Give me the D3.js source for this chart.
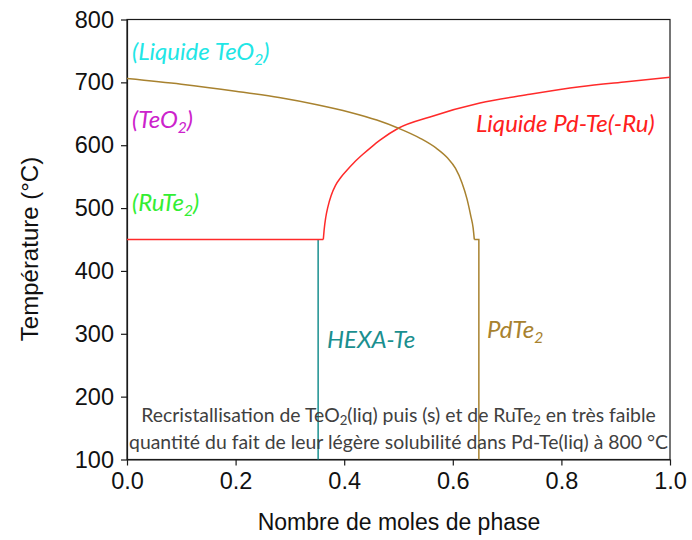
<!DOCTYPE html>
<html><head><meta charset="utf-8">
<script src="https://cdn.jsdelivr.net/npm/d3@7"></script>
<style>html,body{margin:0;padding:0;background:#fff}</style>
</head><body>
<svg id="c" width="692" height="540"></svg>
<script>
// ---- data ----
const xTicks = [0, 0.2, 0.4, 0.6, 0.8, 1.0];
const yTicks = [100, 200, 300, 400, 500, 600, 700, 800];
// Liquide Pd-Te(-Ru) (red)
const liquidFlat = [[0,450],[0.3615,450]];
const liquidCurve = [[0.3615,450],[0.363,465],[0.366,485],[0.370,502],[0.376,520],[0.384,536],[0.394,549],[0.405,560],[0.42,574],[0.435,586],[0.45,597],[0.4659,608],[0.4996,627],[0.558,645],[0.650,667],[0.742,681],[0.834,693],[0.92,701],[1.0,708]];
// PdTe2 (brown)
const pdte2Curve = [[0,706],[0.10,697],[0.20,686],[0.28,676],[0.35,664.5],[0.41,652.5],[0.46,640],[0.50,627],[0.54,611],[0.57,595],[0.59,580],[0.605,563],[0.617,540],[0.626,515],[0.633,488],[0.6375,468],[0.6396,450]];
const pdte2Step = [[0.6396,450],[0.648,450],[0.648,100]];
// HEXA-Te (teal)
const hexaTe = [[0.352,450],[0.352,100]];

const svg = d3.select("#c");
const L = 127, R = 670, T = 19.5, B = 459.5;
const x = d3.scaleLinear().domain([0,1]).range([L,R]);
const y = d3.scaleLinear().domain([100,800]).range([B,T]);

// frame
svg.append("rect").attr("x",L).attr("y",T).attr("width",R-L).attr("height",B-T)
  .attr("fill","none").attr("stroke","#1a1a1a").attr("stroke-width",1.2);

const axFont = "'Liberation Sans', Arial, sans-serif";
const xa = svg.append("g").attr("transform",`translate(0,${B})`)
  .call(d3.axisBottom(x).tickValues(xTicks).tickFormat(d3.format(".1f")).tickSize(6).tickSizeOuter(0));
const ya = svg.append("g").attr("transform",`translate(${L},0)`)
  .call(d3.axisLeft(y).tickValues(yTicks).tickFormat(d3.format("d")).tickSize(6).tickSizeOuter(0));
[xa,ya].forEach(a=>{
  a.select(".domain").attr("stroke","#1a1a1a").attr("stroke-width",1.2);
  a.selectAll(".tick line").attr("stroke","#1a1a1a").attr("stroke-width",1.2);
  a.selectAll(".tick text").attr("font-family",axFont).attr("font-size",23.5).attr("fill","#111");
});
xa.selectAll(".tick text").attr("y",13);
ya.selectAll(".tick text").attr("x",-13);

svg.append("text").attr("x",(L+R)/2+0.5).attr("y",530).attr("text-anchor","middle")
  .attr("font-family",axFont).attr("font-size",23).attr("fill","#111").text("Nombre de moles de phase");
svg.append("text").attr("transform","translate(38,249) rotate(-90)").attr("text-anchor","middle")
  .attr("font-family",axFont).attr("font-size",24).attr("fill","#111").text("Température (°C)");

// curves
const lm = d3.line().x(d=>x(d[0])).y(d=>y(d[1])).curve(d3.curveMonotoneX);
const ll = d3.line().x(d=>x(d[0])).y(d=>y(d[1]));
svg.append("path").attr("d",ll(hexaTe)).attr("fill","none").attr("stroke","#1a8f8f").attr("stroke-width",1.5);
svg.append("path").attr("d",ll(liquidFlat)).attr("fill","none").attr("stroke","#ff2a2a").attr("stroke-width",1.5);
svg.append("path").attr("d",lm(liquidCurve)).attr("fill","none").attr("stroke","#ff2a2a").attr("stroke-width",1.5);
svg.append("path").attr("d",lm(pdte2Curve)).attr("fill","none").attr("stroke","#a8822f").attr("stroke-width",1.5);
svg.append("path").attr("d",ll(pdte2Step)).attr("fill","none").attr("stroke","#a8822f").attr("stroke-width",1.5);

// labels
const lf = "Lato, 'Open Sans', sans-serif";
function label(px,py,parts,color,size){
  const t = svg.append("text").attr("x",px).attr("y",py).attr("font-family",lf)
    .attr("font-style","italic").attr("font-size",size).attr("fill",color);
  parts.forEach(p=>{
    if(p.sub){ t.append("tspan").attr("font-size",size*0.65).attr("dy",size*0.2).text(p.t);
    } else { const s=t.append("tspan").text(p.t); if(p.up) s.attr("dy",-size*0.2); }
  });
  return t;
}
label(132,60,[{t:"(Liquide TeO"},{t:"2",sub:true},{t:")",up:true}],"#22e6e6",24);
label(132,128,[{t:"(TeO"},{t:"2",sub:true},{t:")",up:true}],"#cc22cc",24);
label(132,211,[{t:"(RuTe"},{t:"2",sub:true},{t:")",up:true}],"#33ee33",24);
label(476,132,[{t:"Liquide Pd-Te(-Ru)"}],"#ff2020",24);
label(327,348,[{t:"HEXA-Te"}],"#1a8f8f",24);
label(487,338,[{t:"PdTe"},{t:"2",sub:true}],"#a8822f",24);

// annotation
const af = "Lato, 'Open Sans', sans-serif";
const fs = 19.4;
const a1 = svg.append("text").attr("x",398.5).attr("y",422).attr("text-anchor","middle")
  .attr("font-family",af).attr("font-size",fs).attr("fill","#404040");
a1.append("tspan").text("Recristallisation de TeO");
a1.append("tspan").attr("font-size",fs*0.68).attr("dy",3).text("2");
a1.append("tspan").attr("dy",-3).text("(liq) puis (s) et de RuTe");
a1.append("tspan").attr("font-size",fs*0.68).attr("dy",3).text("2");
a1.append("tspan").attr("dy",-3).text(" en très faible");
svg.append("text").attr("x",398.5).attr("y",449).attr("text-anchor","middle")
  .attr("font-family",af).attr("font-size",fs).attr("fill","#404040")
  .text("quantité du fait de leur légère solubilité dans Pd-Te(liq) à 800 °C");
</script>
</body></html>
